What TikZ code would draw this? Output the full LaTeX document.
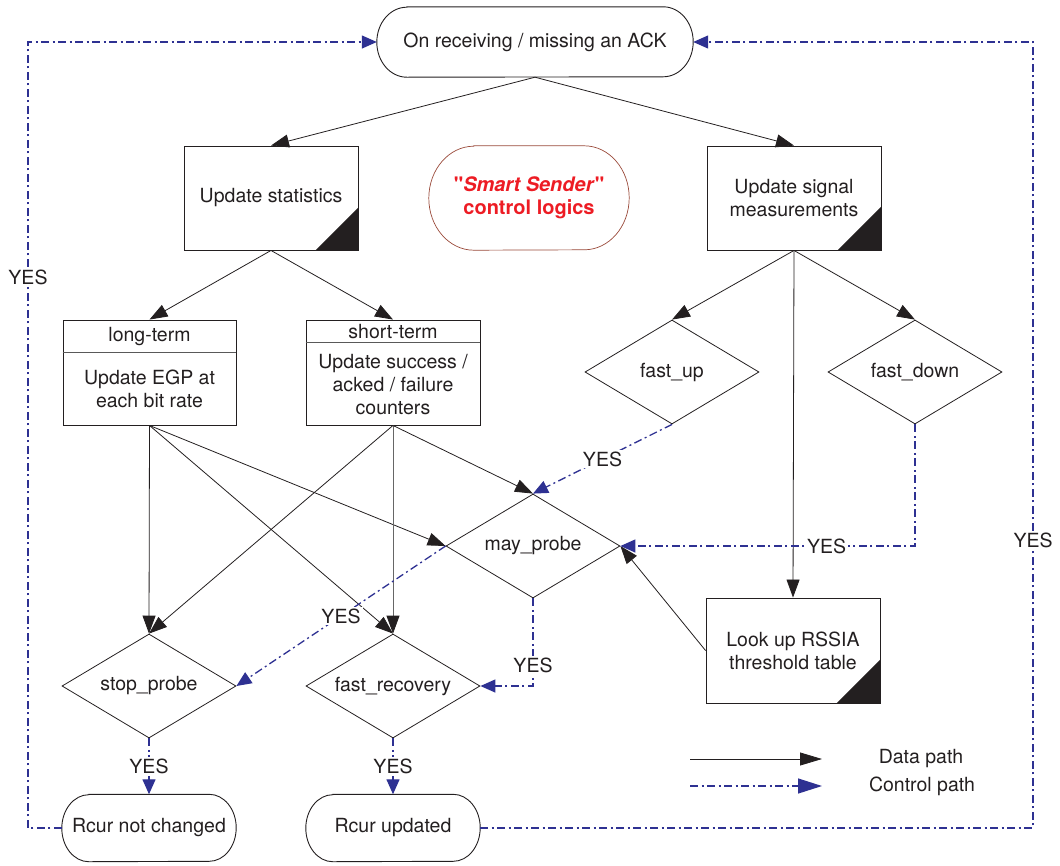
\documentclass[tikz,border=0pt]{standalone}
\usepackage{fontspec}
\setmainfont{TeX Gyre Heros}
\newfontfamily\qfont[Ligatures=TeXOff]{TeX Gyre Heros}
\usetikzlibrary{shapes.geometric,arrows.meta,calc}
\definecolor{ctrl}{HTML}{2E3192}
\definecolor{ink}{HTML}{231F20}
\definecolor{smartred}{HTML}{ED1C24}
\definecolor{smartbrown}{HTML}{9A4A3A}
\newcommand\drawstadium[4]{%
  \draw[#4] ($(#1.north west)+(#2,0)$) -- ($(#1.north east)+(-#2,0)$)
    arc[start angle=90,end angle=-90,x radius=#2,y radius=#3]
    -- ($(#1.south west)+(#2,0)$)
    arc[start angle=270,end angle=90,x radius=#2,y radius=#3] -- cycle;}
\newcommand\dq{{\qfont\bfseries\char"22}}
\begin{document}
\begin{tikzpicture}[x=1pt,y=1pt,
  font=\fontsize{19.5}{23}\selectfont,
  every node/.style={text=ink},
  box/.style={draw=ink, line width=0.9pt, minimum width=174pt, minimum height=104pt, inner sep=0pt, align=center},
  dia/.style={diamond, draw=ink, line width=0.8pt, minimum width=174pt, minimum height=104pt, aspect=1.67, inner sep=0pt},
  term/.style={inner sep=0pt, align=center},
  data/.style={draw=ink, line width=0.8pt, -{Triangle[length=18pt,width=13pt]}},
  ctl/.style={draw=ctrl, line width=1.3pt, dash pattern=on 8pt off 3.5pt on 2pt off 3.5pt, -{Triangle[length=15pt,width=13pt]}},
  yes/.style={fill=white, inner sep=2pt, text=ink},
]
\useasboundingbox (0,0) rectangle (1060,-865);

% terminals
\node[term, minimum width=316pt, minimum height=70pt] (top) at (535,-42) {On receiving / missing an ACK};
\drawstadium{top}{30}{35}{draw=ink, line width=0.9pt}
\node[term, minimum width=200pt, minimum height=104pt, text=smartred, font=\fontsize{20}{23}\selectfont\bfseries] (smart) at (529,-198) {\dq\textit{Smart Sender}\dq\\control logics};
\drawstadium{smart}{45}{52}{draw=smartbrown, line width=0.7pt}
\node[term, minimum width=174pt, minimum height=67pt] (rcura) at (149,-828) {Rcur not changed};
\drawstadium{rcura}{27}{33.5}{draw=ink, line width=0.9pt}
\node[term, minimum width=174pt, minimum height=67pt] (rcurb) at (393,-828) {Rcur updated};
\drawstadium{rcurb}{27}{33.5}{draw=ink, line width=0.9pt}

% process boxes
\node[box] (stats) at (271,-198) {Update statistics};
\fill[ink] (stats.south east) -- ++(-43,0) -- ++(43,43) -- cycle;
\node[box] (signal) at (794,-198) {Update signal\\measurements};
\fill[ink] (signal.south east) -- ++(-44,0) -- ++(44,44) -- cycle;
\node[box, minimum height=105pt] (lookup) at (793,-650.5) {Look up RSSIA\\threshold table};
\fill[ink] (lookup.south east) -- ++(-44,0) -- ++(44,44) -- cycle;

\node[box, minimum width=173pt, minimum height=105pt] (long) at (149.5,-372.5) {};
\draw[gray!70!black, line width=0.9pt] ($(long.north west)+(0,-33)$) -- ($(long.north east)+(0,-33)$);
\node (longhd) at (149.5,-337) {long-term};
\node[align=center] (longbd) at (149.5,-389) {Update EGP at\\each bit rate};

\node[box, minimum height=105pt] (short) at (393,-372.5) {};
\draw[gray!70!black, line width=0.9pt] ($(short.north west)+(0,-23)$) -- ($(short.north east)+(0,-23)$);
\node (shorthd) at (393,-332) {short-term};
\node[align=center] (shortbd) at (393,-385) {Update success /\\acked / failure\\counters};

% decisions
\node[dia] (fastup) at (672,-372) {fast\_up};
\node[dia] (fastdown) at (915,-372) {fast\_down};
\node[dia] (may) at (533,-546) {may\_probe};
\node[dia] (stop) at (149,-686) {stop\_probe};
\node[dia] (fastrec) at (393,-686) {fast\_recovery};

% data paths
\draw[data] (top.south) -- (stats.north);
\draw[data] (top.south) -- (signal.north);
\draw[data] (stats.south) -- (long.north);
\draw[data] (stats.south) -- (short.north);
\draw[data] (signal.south) -- (fastup.north);
\draw[data] (signal.south) -- (fastdown.north);
\draw[data] (signal.south) -- (lookup.north);
\draw[data] (long.south) -- (stop.north);
\draw[data] (long.south) -- (fastrec.north);
\draw[data] (long.south) -- (may.west);
\draw[data] (short.south) -- (stop.north);
\draw[data, draw=gray!80!black, -{Triangle[length=18pt,width=13pt,color=ink]}] (short.south) -- (fastrec.north);
\draw[data] (short.south) -- (may.north);
\draw[data] (lookup.west) -- (may.east);

% control paths
\coordinate (cl) at (28,-42);
\coordinate (cr) at (1033,-42);
\draw[ctl] (fastup.south) -- node[yes, pos=0.5] (y1) {YES} (may.north);
\draw[ctl] (fastdown.south) |- node[yes, pos=0.65] (y2) {YES} (may.east);
\draw[ctl] (may.west) -- node[yes, pos=0.5] (y3) {YES} (stop.east);
\draw[ctl] (may.south) |- node[yes, pos=0.385] (y4) {YES} (fastrec.east);
\draw[ctl] (stop.south) -- node[yes, pos=0.5] (y5) {YES} (rcura.north);
\draw[ctl] (fastrec.south) -- node[yes, pos=0.5] (y6) {YES} (rcurb.north);
\draw[ctl] (rcura.west) -| node[yes, pos=0.85] (y7) {YES} (cl) -- (top.west);
\draw[ctl] (rcurb.east) -| node[yes, pos=0.683] (y8) {YES} (cr) -- (top.east);

% legend
\coordinate (dpa) at (690,-759);
\coordinate (dpb) at (822,-759);
\coordinate (cpa) at (690,-786);
\coordinate (cpb) at (822,-786);
\draw[data, -{Triangle[length=22pt,width=13pt]}] (dpa) -- (dpb);
\draw[ctl, -{Triangle[length=24pt,width=15pt]}] (cpa) -- (cpb);
\node (dptxt) at (921,-759) {Data path};
\node (cptxt) at (922,-786) {Control path};
\end{tikzpicture}
\end{document}
